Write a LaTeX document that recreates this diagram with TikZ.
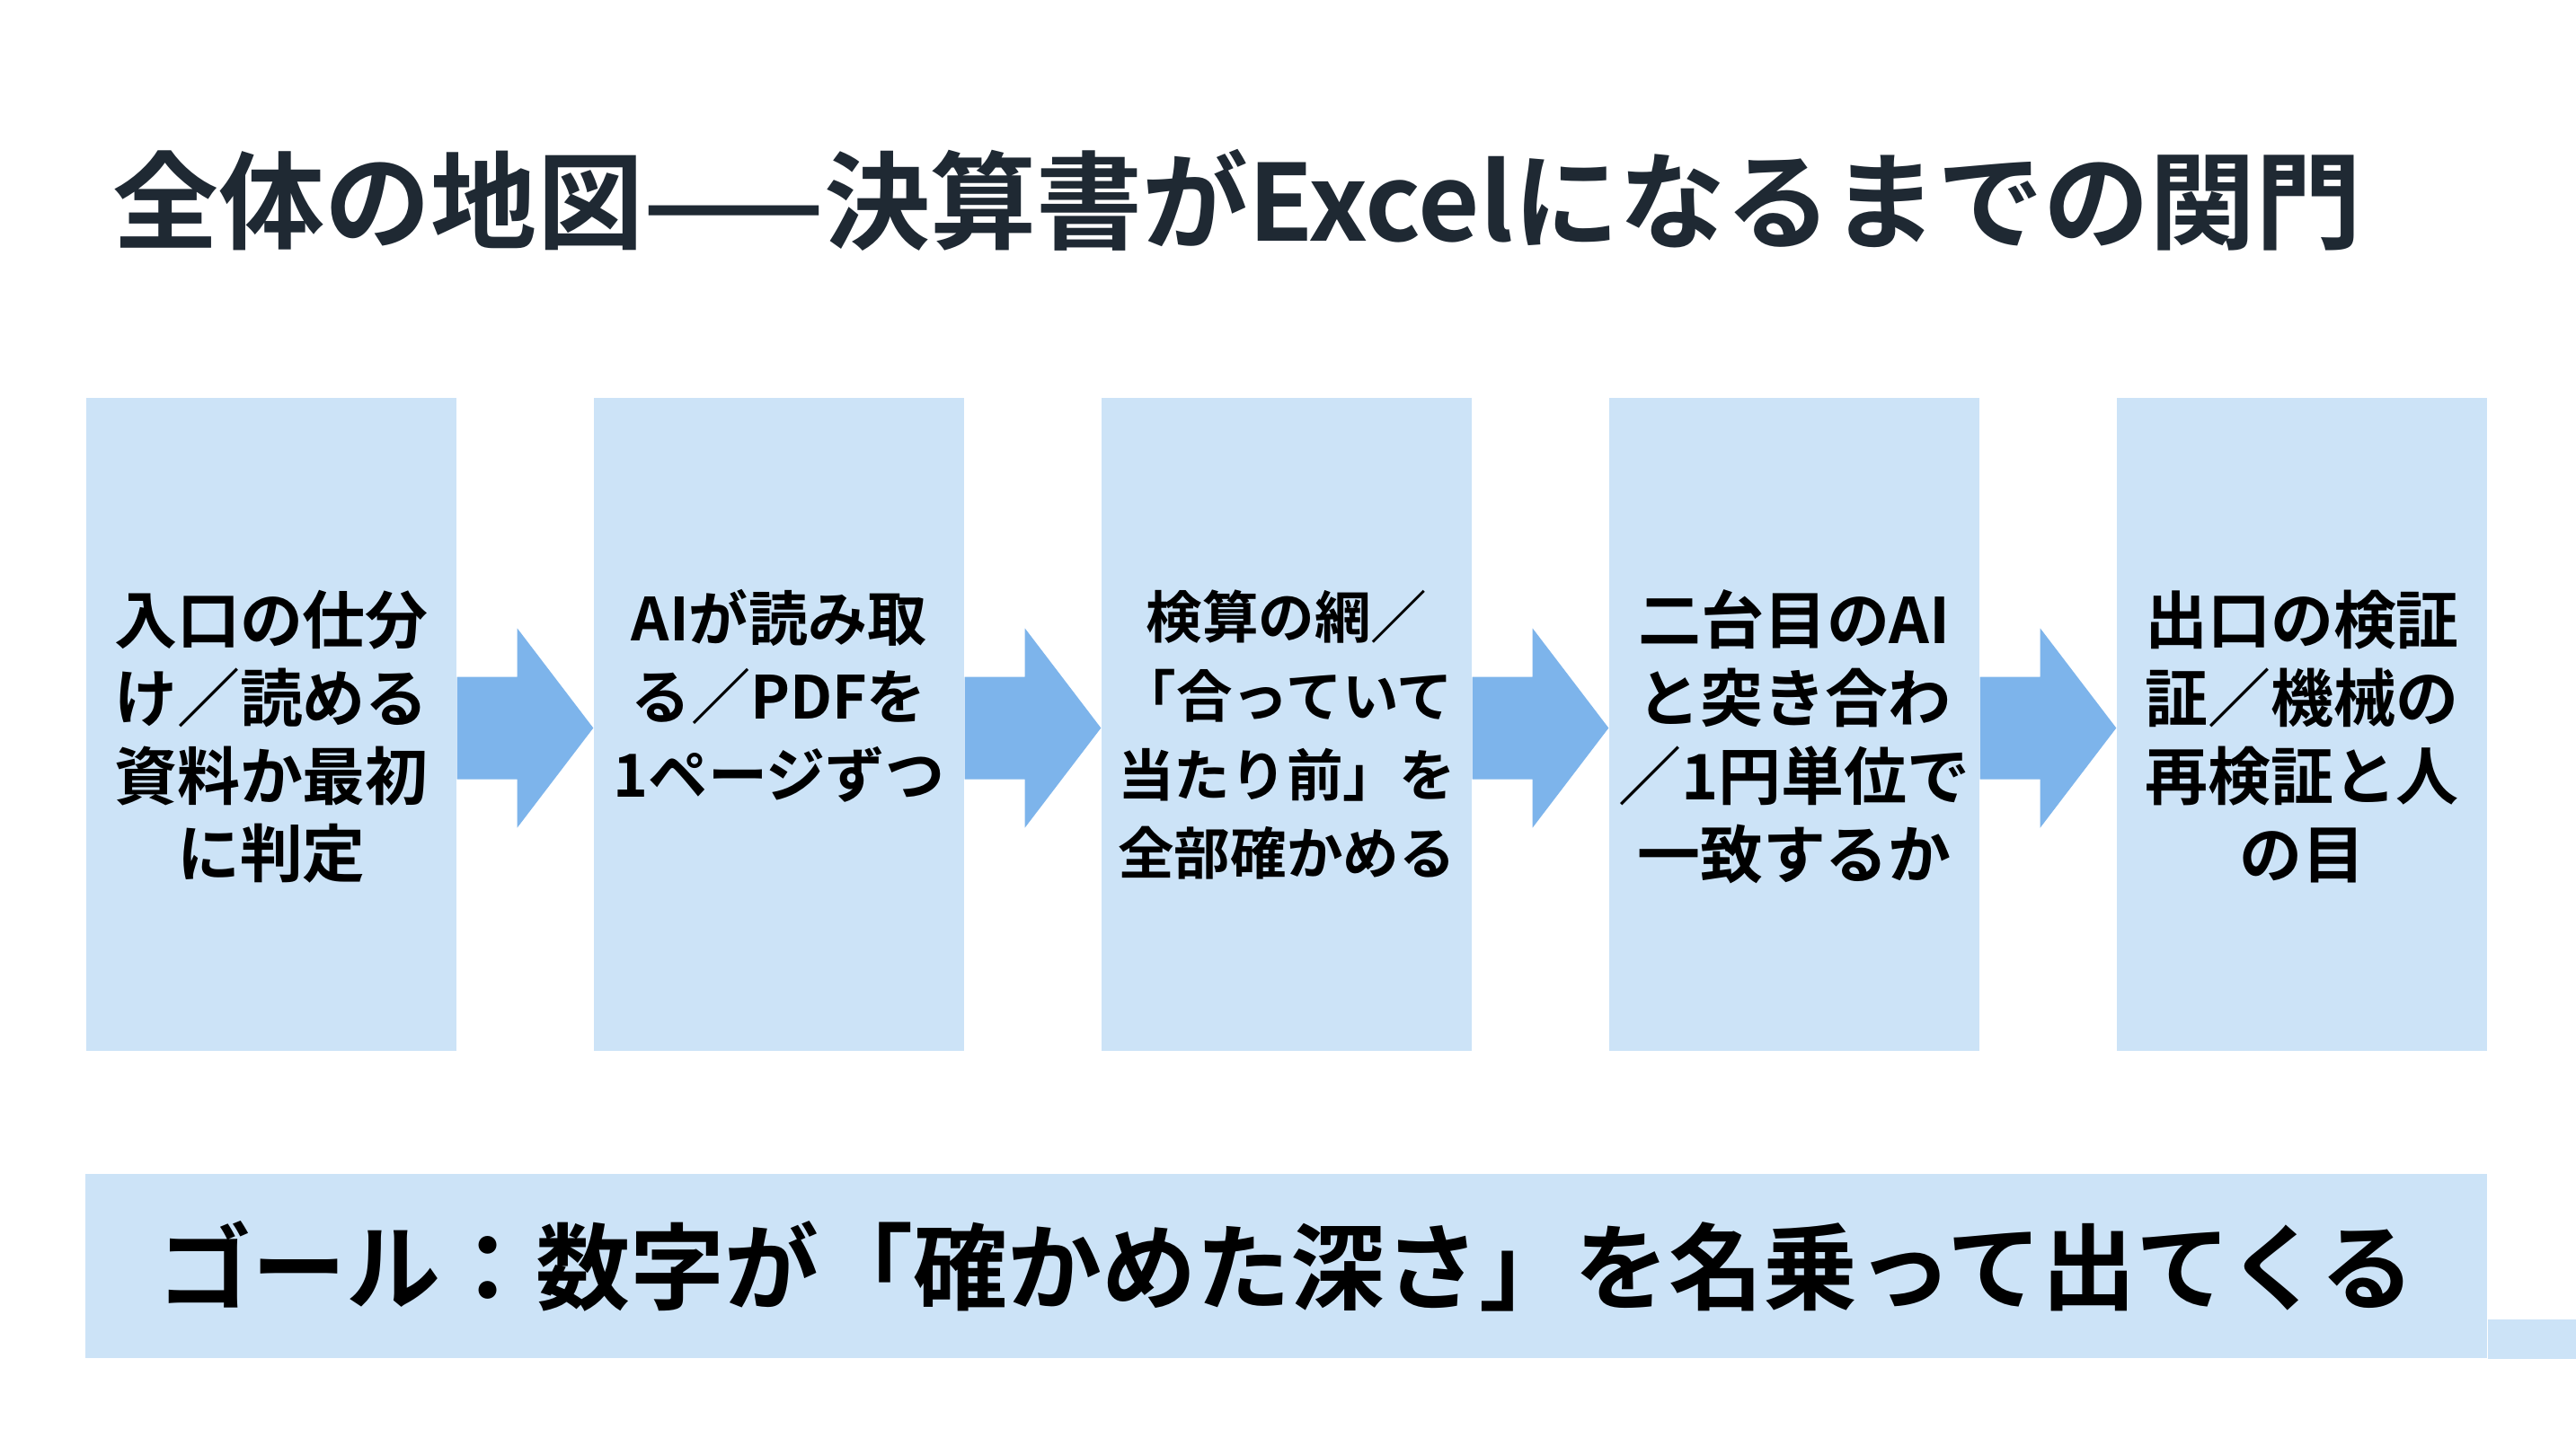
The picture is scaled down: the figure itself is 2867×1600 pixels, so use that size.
\documentclass[tikz,border=0pt]{standalone}
\usepackage{fontspec}
\newfontfamily\jp{Noto Sans CJK JP}[BoldFont={Noto Sans CJK JP Bold}]
\usetikzlibrary{calc}
\definecolor{boxc}{RGB}{204,227,247}
\definecolor{arrc}{RGB}{125,180,235}
\definecolor{titc}{RGB}{31,41,51}
\tikzset{
  stepbox/.style={rectangle, fill=boxc, draw=none, inner sep=0pt, minimum width=41.2mm, minimum height=72.7mm},
  steptext/.style={anchor=north, inner sep=0pt, align=center, text=black, font=\jp\bfseries\fontsize{19.9pt}{24.75pt}\selectfont},
  flowarrow/.style={fill=arrc, draw=none},
}
\begin{document}
\begin{tikzpicture}[x=0.1mm,y=-0.1mm]
\useasboundingbox[fill=white] (0,0) rectangle (2867,1600);
% title
\node[anchor=base west, inner sep=0pt, text=titc, font=\jp\bfseries\fontsize{33.6pt}{40pt}\selectfont] (title) at (125,268) {全体の地図——決算書がExcelになるまでの関門};
% boxes
\node[stepbox] (b1) at (302,806.5) {};
\node[stepbox] (b2) at (867,806.5) {};
\node[stepbox] (b3) at (1432,806.5) {};
\node[stepbox] (b4) at (1997,806.5) {};
\node[stepbox] (b5) at (2562,806.5) {};
% texts
\node[steptext] (t1) at (302,656) {入口の仕分\\け／読める\\資料か最初\\に判定};
\node[steptext, font=\jp\bfseries\fontsize{18.8pt}{24.75pt}\selectfont] (t2) at (867,656) {AIが読み取\\る／PDFを\\1ページずつ};
\node[steptext, font=\jp\bfseries\fontsize{17.8pt}{25pt}\selectfont] (t3) at (1432,656) {検算の網／\\「合っていて\\当たり前」を\\全部確かめる};
\node[steptext] (t4) at (1997,656) {二台目のAI\\と突き合わ\\／1円単位で\\一致するか};
\node[steptext] (t5) at (2562,656) {出口の検証\\証／機械の\\再検証と人\\の目};
% arrows
\foreach \a/\b in {b1/b2,b2/b3,b3/b4,b4/b5}{
  \fill[flowarrow] ($(\a.east)+(0,-53)$) -- ($(\a.east)+(67,-53)$) -- ($(\a.east)+(67,-107)$)
     -- ($(\b.west)+(0,4)$) -- ($(\a.east)+(67,115)$) -- ($(\a.east)+(67,61)$) -- ($(\a.east)+(0,61)$) -- cycle;
}
% goal bar
\node[fill=boxc, inner sep=0pt, minimum width=267.3mm, minimum height=20.5mm, text=black,
      font=\jp\bfseries\fontsize{29.9pt}{36pt}\selectfont] (goal) at (1431.5,1409.5) {ゴール：数字が「確かめた深さ」を名乗って出てくる};
\fill[boxc] (goal.south east) rectangle ($(goal.south east)+(99,-44)$);
\end{tikzpicture}
\end{document}
